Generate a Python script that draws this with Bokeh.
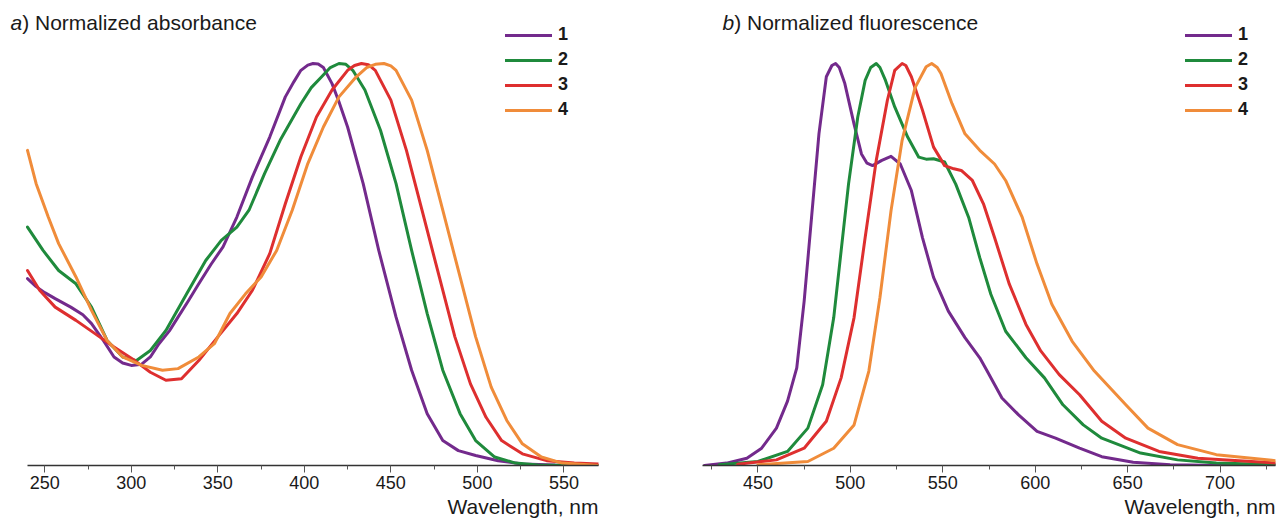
from bokeh.plotting import figure
from bokeh.models import Range1d, FixedTicker, Legend, LegendItem, Label, Title
from bokeh.layouts import row
from bokeh.embed import file_html
from bokeh.resources import INLINE

# ---------------- data ----------------
series_names = ["1", "2", "3", "4"]
colors = ["#732A8C", "#1F8A3C", "#DE2F2F", "#F08C3A"]

abs_x1 = [240, 245, 250, 256, 265, 272, 277, 284, 290, 295, 300, 306, 311, 316, 322, 327, 333, 339, 346, 353, 361, 370, 380, 389, 394, 398, 402, 405, 408, 411, 416, 420, 425, 434, 443, 453, 462, 471, 480, 489, 499, 512, 526, 545, 570]
abs_y1 = [0.465, 0.445, 0.43, 0.415, 0.394, 0.375, 0.353, 0.31, 0.27, 0.255, 0.249, 0.252, 0.27, 0.303, 0.335, 0.369, 0.41, 0.452, 0.5, 0.544, 0.618, 0.718, 0.817, 0.917, 0.955, 0.983, 0.996, 1.0, 0.999, 0.99, 0.95, 0.905, 0.842, 0.701, 0.535, 0.369, 0.237, 0.129, 0.062, 0.037, 0.025, 0.012, 0.004, 0.001, 0.0]

abs_x2 = [240, 249, 258, 268, 277, 286, 295, 303, 311, 320, 332, 343, 352, 361, 368, 377, 386, 398, 404, 410, 415, 420, 424, 428, 435, 444, 453, 462, 471, 480, 490, 499, 510, 522, 535, 570]
abs_y2 = [0.593, 0.535, 0.485, 0.452, 0.394, 0.311, 0.27, 0.261, 0.286, 0.336, 0.427, 0.51, 0.56, 0.593, 0.635, 0.726, 0.809, 0.9, 0.94, 0.967, 0.99, 1.0, 0.998, 0.983, 0.934, 0.834, 0.701, 0.535, 0.378, 0.237, 0.129, 0.062, 0.021, 0.006, 0.001, 0.0]

abs_x3 = [240, 247, 256, 268, 279, 290, 302, 311, 320, 329, 339, 350, 361, 370, 380, 389, 398, 407, 416, 425, 429, 433, 437, 441, 450, 459, 468, 478, 487, 496, 505, 514, 526, 540, 556, 570]
abs_y3 = [0.485, 0.436, 0.394, 0.361, 0.328, 0.295, 0.261, 0.232, 0.212, 0.216, 0.261, 0.32, 0.378, 0.436, 0.527, 0.651, 0.768, 0.867, 0.934, 0.983, 0.995, 1.0, 0.997, 0.983, 0.909, 0.784, 0.635, 0.469, 0.32, 0.203, 0.12, 0.062, 0.029, 0.012, 0.006, 0.004]

abs_x4 = [240, 245, 252, 258, 268, 277, 286, 295, 306, 318, 327, 339, 348, 357, 366, 375, 384, 393, 402, 411, 420, 430, 436, 441, 446, 450, 453, 462, 471, 480, 490, 499, 508, 517, 526, 537, 549, 570]
abs_y4 = [0.784, 0.701, 0.618, 0.552, 0.469, 0.386, 0.311, 0.27, 0.249, 0.237, 0.241, 0.27, 0.303, 0.378, 0.427, 0.469, 0.535, 0.635, 0.751, 0.842, 0.917, 0.967, 0.99, 0.998, 1.0, 0.994, 0.983, 0.909, 0.784, 0.635, 0.469, 0.32, 0.195, 0.112, 0.054, 0.021, 0.006, 0.0]

fl_x1 = [421, 433, 444, 452, 460, 466, 471, 475, 479, 483, 487, 490, 492, 494, 497, 502, 506, 509, 512, 517, 522, 527, 533, 539, 545, 553, 562, 570, 574, 582, 591, 601, 611, 624, 636, 653, 673, 700, 730]
fl_y1 = [0.0, 0.006, 0.018, 0.043, 0.093, 0.16, 0.243, 0.409, 0.617, 0.825, 0.967, 0.995, 1.0, 0.99, 0.95, 0.849, 0.775, 0.752, 0.746, 0.759, 0.769, 0.75, 0.684, 0.567, 0.468, 0.384, 0.318, 0.268, 0.235, 0.168, 0.126, 0.085, 0.068, 0.043, 0.022, 0.008, 0.002, 0.0, 0.0]

fl_x2 = [429, 450, 466, 477, 485, 491, 495, 499, 504, 508, 511, 514, 516, 519, 524, 531, 537, 541, 545, 551, 557, 564, 570, 576, 584, 595, 605, 615, 626, 636, 657, 677, 698, 730]
fl_y2 = [0.002, 0.01, 0.035, 0.093, 0.201, 0.368, 0.534, 0.7, 0.867, 0.958, 0.99, 1.0, 0.99, 0.958, 0.892, 0.817, 0.767, 0.762, 0.763, 0.755, 0.7, 0.617, 0.517, 0.426, 0.334, 0.268, 0.218, 0.151, 0.101, 0.068, 0.031, 0.014, 0.006, 0.002]

fl_x3 = [439, 460, 475, 487, 495, 502, 508, 514, 520, 524, 528, 530, 533, 539, 545, 551, 556, 560, 566, 572, 578, 586, 595, 603, 613, 624, 636, 649, 667, 688, 730]
fl_y3 = [0.003, 0.014, 0.043, 0.11, 0.218, 0.368, 0.567, 0.759, 0.908, 0.983, 1.0, 0.995, 0.967, 0.884, 0.792, 0.746, 0.738, 0.734, 0.709, 0.651, 0.567, 0.451, 0.351, 0.285, 0.226, 0.176, 0.11, 0.068, 0.035, 0.018, 0.006]

fl_x4 = [450, 477, 491, 502, 510, 516, 522, 528, 535, 541, 544, 547, 549, 555, 562, 570, 578, 584, 593, 601, 609, 620, 632, 649, 661, 677, 698, 730]
fl_y4 = [0.002, 0.01, 0.043, 0.101, 0.235, 0.418, 0.634, 0.809, 0.94, 0.992, 1.0, 0.99, 0.975, 0.9, 0.825, 0.784, 0.75, 0.709, 0.617, 0.501, 0.401, 0.309, 0.235, 0.151, 0.093, 0.052, 0.027, 0.012]

abs_major_ticks = [250, 300, 350, 400, 450, 500, 550]
abs_minor_ticks = [275, 325, 375, 425, 475, 525]
fl_major_ticks = [450, 500, 550, 600, 650, 700]
fl_minor_ticks = [425, 475, 525, 575, 625, 675, 725]
abs_bounds = (240, 570)
fl_bounds = (420, 730)

titles = [("a", ") Normalized absorbance"), ("b", ") Normalized fluorescence")]
x_label = "Wavelength, nm"

FONT = "Liberation Sans"
TXT = "#1a1a1a"
H = 521
FRAME_BOTTOM = 465   # pixel row of the zero line
PX_PER_UNIT = 402.0


def make_panel(xs, ys, bounds, x_start, majors, minors, title, width, bl, br, legend_x, title_x):
    y_end = FRAME_BOTTOM / PX_PER_UNIT
    p = figure(width=width, height=H, output_backend="svg", toolbar_location=None,
               x_range=Range1d(x_start, bounds[1]), y_range=Range1d(0, y_end), y_axis_type=None,
               min_border_left=bl, min_border_right=br, min_border_top=0,
               min_border_bottom=H - FRAME_BOTTOM)
    p.outline_line_color = None
    p.xgrid.visible = False
    p.ygrid.visible = False
    p.background_fill_color = "white"
    p.border_fill_color = "white"

    ax = p.xaxis[0]
    ax.bounds = bounds
    ax.ticker = FixedTicker(ticks=majors, minor_ticks=minors)
    ax.axis_line_color = "#333333"
    ax.axis_line_width = 1.5
    ax.major_tick_line_color = "#555555"
    ax.minor_tick_line_color = "#555555"
    ax.major_tick_in = 0
    ax.major_tick_out = 7
    ax.minor_tick_in = 0
    ax.minor_tick_out = 4
    ax.major_label_standoff = 3
    ax.major_label_text_font = FONT
    ax.major_label_text_font_size = "18px"
    ax.major_label_text_color = TXT

    items = []
    for x, y, c, n in zip(xs, ys, colors, series_names):
        r = p.line(x, y, line_color=c, line_width=3, line_join="round", line_cap="round")
        items.append(LegendItem(label=n, renderers=[r]))

    leg = Legend(items=items, location=(legend_x, 345), border_line_color=None,
                 background_fill_alpha=0, padding=0, margin=0, spacing=4,
                 glyph_width=47, glyph_height=20, label_height=20, label_standoff=6,
                 label_text_font=FONT, label_text_font_size="18px",
                 label_text_font_style="bold", label_text_color=TXT)
    p.add_layout(leg)

    p.add_layout(Label(x=title_x, y=FRAME_BOTTOM - 22, x_units="screen", y_units="screen",
                       text=title[0], text_font=FONT, text_font_size="21px",
                       text_font_style="italic", text_baseline="middle", text_color=TXT))
    p.add_layout(Label(x=title_x + 11.7, y=FRAME_BOTTOM - 22, x_units="screen", y_units="screen",
                       text=title[1], text_font=FONT, text_font_size="21px",
                       text_baseline="middle", text_color=TXT))
    p.add_layout(Title(text=x_label, align="right", text_font=FONT, text_font_size="21px",
                       text_font_style="normal", text_color=TXT, standoff=2), "below")
    return p


# left panel: frame starts at x=0 so the title fits; 240 nm sits at 27 px
k_left = (598 - 27) / (abs_bounds[1] - abs_bounds[0])
left_start = abs_bounds[0] - 27 / k_left

p1 = make_panel([abs_x1, abs_x2, abs_x3, abs_x4], [abs_y1, abs_y2, abs_y3, abs_y4],
                abs_bounds, left_start, abs_major_ticks, abs_minor_ticks, titles[0],
                648, 0, 50, 505, 10)
p2 = make_panel([fl_x1, fl_x2, fl_x3, fl_x4], [fl_y1, fl_y2, fl_y3, fl_y4],
                fl_bounds, fl_bounds[0], fl_major_ticks, fl_minor_ticks, titles[1],
                632, 54, 5, 483, 20)

layout = row(p1, p2)
open("out.html", "w").write(file_html(layout, INLINE))
